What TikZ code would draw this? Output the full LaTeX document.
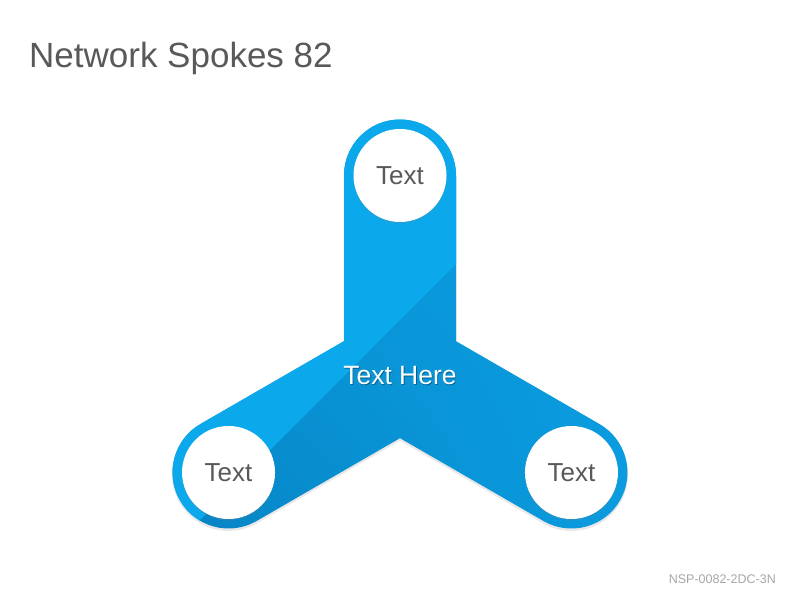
\documentclass[tikz,border=0pt]{standalone}
\usepackage{fontspec}
\setmainfont{Liberation Sans}
\usetikzlibrary{calc,shadows,shadings}

\definecolor{spokelight}{HTML}{0CA8EC}
\definecolor{spokemid}{HTML}{0A9DE0}
\definecolor{spokedark}{HTML}{0682C2}
\definecolor{textgray}{HTML}{595959}
\definecolor{codegray}{HTML}{A6A6A6}

\begin{document}
\begin{tikzpicture}[x=1pt,y=1pt]
				% Einstellungen für Kreise und Beschriftungen
				\tikzset{
					hub/.style={
						circle, % Runde Form
						fill=white, % Weiße Füllung
						minimum size=93pt, % Durchmesser der Kreise
						inner sep=0pt,
						text=textgray, % Textfarbe
						font=\fontsize{26}{30}\selectfont,
						drop shadow={opacity=0.22, shadow xshift=0pt, shadow yshift=-1.5pt}
					},
					centerlabel/.style={
						font=\fontsize{26.5}{31}\selectfont, % Schrift in der Mitte
						inner sep=0pt
					}
				}
				
				% Feste Bildgröße
				\useasboundingbox (0,0) rectangle (800,600);
				
				% Mittelpunkt und Enden der drei Speichen
				\coordinate (c) at (400,226.5);
				\coordinate (top) at ($(c)+(90:198)$);
				\coordinate (left) at ($(c)+(210:198)$);
				\coordinate (right) at ($(c)+(330:198)$);
				
				% Umriss der Speichen speichern
				\path[save path=\spokepath] ($(top)+(0:56)$) arc[start angle=0, end angle=180, radius=56]
					-- ($(c)+(150:64.66)$) -- ($(left)+(120:56)$) arc[start angle=120, end angle=300, radius=56]
					-- ($(c)+(270:64.66)$) -- ($(right)+(240:56)$) arc[start angle=240, end angle=420, radius=56]
					-- ($(c)+(30:64.66)$) -- cycle;
				
				% Leichter Schatten unter den Speichen
				\begin{scope}[transparency group, opacity=0.09]
					\foreach \e in {top,left,right} {
						\draw[line width=113pt, line cap=round, black] ([yshift=-2pt]c) -- ([yshift=-2pt]\e);
					}
				\end{scope}
				
				% Speichen füllen: dunkler Verlauf, helle obere Hälfte
				\begin{scope}
					\clip[use path=\spokepath];
					\shade[lower left=spokedark, upper left=spokemid, upper right=spokemid, lower right=spokemid] (160,60) rectangle (640,490);
					\fill[spokelight] (0,600) -- (720,600) -- (120,0) -- (0,0) -- cycle;
				\end{scope}
				
				% Drei weiße Kreise mit Text
				\foreach \e in {top,left,right} {
					\node[hub] (\e hub) at (\e) {Text};
				}
				
				% Text in der Mitte mit Schatten
				\node[centerlabel, black, opacity=0.35] (labelshadow) at (400.8,223) {Text Here};
				\node[centerlabel, white] (label) at (400,224) {Text Here};
				
				% Titel und Kennung
				\node[anchor=base west, inner sep=0pt, text=textgray, font=\fontsize{35}{42}\selectfont] (title) at (29,532) {Network Spokes 82};
				\node[anchor=base east, inner sep=0pt, text=codegray, font=\fontsize{12.5}{15}\selectfont] (code) at (776,16.5) {NSP-0082-2DC-3N};
\end{tikzpicture}
\end{document}
